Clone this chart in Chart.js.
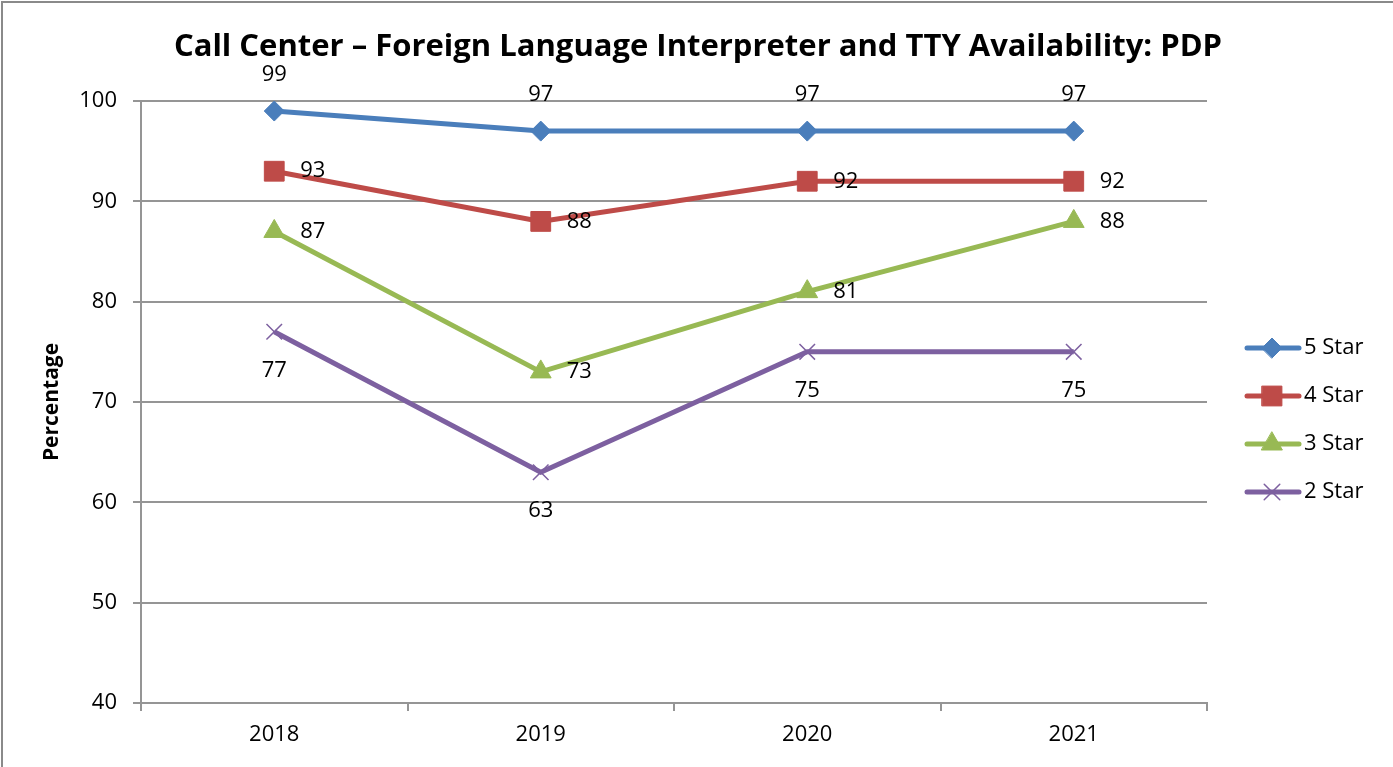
<!DOCTYPE html>
<html>
<head>
<meta charset="utf-8">
<script src="https://cdn.jsdelivr.net/npm/chart.js"></script>
<style>
    body { margin: 0; background: #fff; }
    #grafico__container { width: 1393px; height: 767px; }
</style>
</head>
<body>
<div id="grafico__container"><canvas id="grafico" width="1393" height="767"></canvas></div>
<script>
// Datos del grafico
const categorias = ['2018', '2019', '2020', '2021']
const series = ['5 Star', '4 Star', '3 Star', '2 Star']
const valores5 = [99, 97, 97, 97]
const valores4 = [93, 88, 92, 92]
const valores3 = [87, 73, 81, 88]
const valores2 = [77, 63, 75, 75]
const ticksY = { min: 40, max: 100, paso: 10 }

const titulo = 'Call Center \u2013 Foreign Language Interpreter and TTY Availability: PDP'
const fuente = '"Open Sans", "Liberation Sans", sans-serif'
const colorTexto = '#000'
const colorGris = '#959595'

// estilo de cada serie: color, marcador, donde va la etiqueta
const estilos = [
    { color: '#4A7EBB', punto: 'rectRot', radio: 10, etiqueta: 'arriba' },
    { color: '#BE4B48', punto: 'rect', radio: 14, etiqueta: 'derecha' },
    { color: '#98B954', punto: 'triangle', radio: 12, etiqueta: 'derecha' },
    { color: '#7D60A0', punto: 'crossRot', radio: 11, etiqueta: 'abajo' }
]

function armarDataset(nombre, valores, estilo) {
    const esCruz = estilo.punto == 'crossRot'
    return {
        label: nombre,
        data: valores,
        borderColor: estilo.color,
        backgroundColor: estilo.color,
        borderWidth: 5,
        pointStyle: estilo.punto,
        pointRadius: estilo.radio,
        pointHoverRadius: estilo.radio,
        pointBackgroundColor: estilo.color,
        pointBorderColor: estilo.color,
        pointBorderWidth: esCruz ? 1.5 : 1,
        tension: 0,
        posicionEtiqueta: estilo.etiqueta
    }
}

// Plugin: borde, titulo, etiquetas de datos y leyenda
const extras = {
    id: 'extras',
    beforeDraw(chart) {
        const ctx = chart.ctx
        ctx.save()
        ctx.strokeStyle = '#8a8a8a'
        ctx.lineWidth = 2
        ctx.strokeRect(2, 2, chart.width + 10, chart.height + 10)
        ctx.restore()
    },
    afterDatasetsDraw(chart) {
        const ctx = chart.ctx
        ctx.save()

        // titulo
        ctx.fillStyle = colorTexto
        ctx.font = 'bold 31px ' + fuente
        ctx.textAlign = 'center'
        ctx.textBaseline = 'middle'
        ctx.fillText(titulo, 698, 47)

        // etiquetas de datos
        ctx.font = '22px ' + fuente
        chart.data.datasets.forEach((ds, i) => {
            const meta = chart.getDatasetMeta(i)
            meta.data.forEach((p, j) => {
                let x = p.x, y = p.y
                ctx.textAlign = 'center'
                if (ds.posicionEtiqueta == 'arriba') y -= 36
                else if (ds.posicionEtiqueta == 'abajo') y += 39
                else { x += 26; ctx.textAlign = 'left' }
                ctx.fillText(String(ds.data[j]), x, y)
            })
        })

        // leyenda
        chart.data.datasets.forEach((ds, i) => {
            const y = 348 + 48 * i
            ctx.strokeStyle = ds.borderColor
            ctx.lineWidth = 5
            ctx.lineCap = 'round'
            ctx.beginPath()
            ctx.moveTo(1247, y)
            ctx.lineTo(1299, y)
            ctx.stroke()
            ctx.fillStyle = ds.pointBackgroundColor
            ctx.strokeStyle = ds.pointBorderColor
            ctx.lineWidth = ds.pointBorderWidth
            Chart.helpers.drawPoint(ctx, {
                pointStyle: ds.pointStyle,
                radius: ds.pointRadius,
                rotation: 0,
                borderWidth: ds.pointBorderWidth
            }, 1272, y)
            ctx.fillStyle = colorTexto
            ctx.font = '22px ' + fuente
            ctx.textAlign = 'left'
            ctx.textBaseline = 'middle'
            ctx.fillText(ds.label, 1304, y)
        })
        ctx.restore()
    }
}

function graficoLineas() {
    const canvas = document.querySelector('#grafico')
    const contexto = canvas.getContext('2d')

    const listas = [valores5, valores4, valores3, valores2]

    return new Chart(contexto, {
        type: 'line',
        data: {
            labels: categorias,
            datasets: listas.map((v, i) => armarDataset(series[i], v, estilos[i]))
        },
        plugins: [extras],
        options: {
            responsive: false,
            animation: false,
            layout: { padding: { top: 101, right: 186, left: 0, bottom: 0 } },
            plugins: {
                legend: { display: false },
                title: { display: false },
                tooltip: { enabled: false }
            },
            scales: {
                x: {
                    offset: true,
                    afterFit: (s) => { s.height = 64 },
                    grid: {
                        offset: true,
                        drawOnChartArea: false,
                        drawTicks: true,
                        tickLength: 8,
                        color: colorGris,
                        lineWidth: 2
                    },
                    border: { display: true, color: colorGris, width: 2 },
                    ticks: {
                        color: colorTexto,
                        padding: 11,
                        font: { family: fuente, size: 22 }
                    }
                },
                y: {
                    min: ticksY.min,
                    max: ticksY.max,
                    afterFit: (s) => { s.width = 141 },
                    grid: {
                        color: colorGris,
                        lineWidth: 2,
                        tickLength: 8
                    },
                    border: { display: true, color: colorGris, width: 2 },
                    ticks: {
                        stepSize: ticksY.paso,
                        color: colorTexto,
                        padding: 16,
                        font: { family: fuente, size: 22 }
                    },
                    title: {
                        display: true,
                        text: 'Percentage',
                        color: colorTexto,
                        padding: { top: 39, bottom: 0 },
                        font: { family: fuente, size: 21, weight: 'bold' }
                    }
                }
            }
        }
    })
}

graficoLineas()
</script>
</body>
</html>
